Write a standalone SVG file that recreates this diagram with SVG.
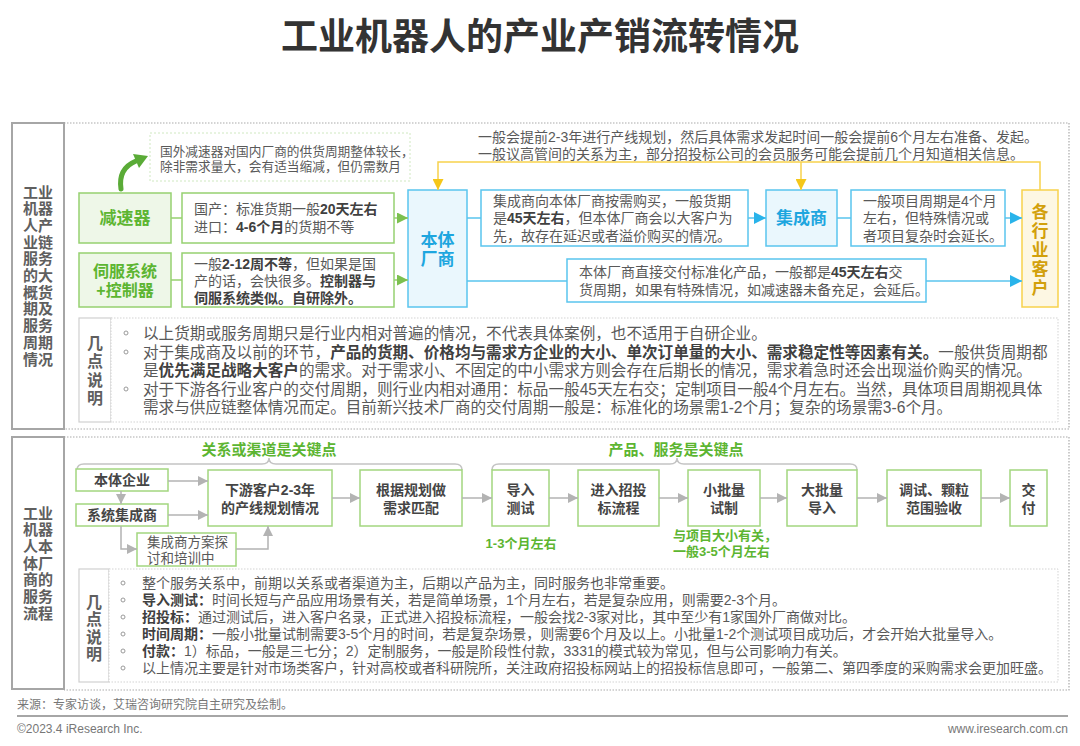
<svg xmlns="http://www.w3.org/2000/svg" width="1080" height="746" viewBox="0 0 1080 746">
<defs>
<style>
text{font-family:"Liberation Sans","Noto Sans CJK SC",sans-serif;fill:#595959}
.t{font-size:14px}
.b{font-weight:bold;fill:#404040}
.title{font-size:37px;font-weight:bold;fill:#333;text-anchor:middle}
.side{font-size:15px;font-weight:bold;fill:#5f5f5f;text-anchor:middle}
.gbox{fill:#fff;stroke:#96d170;stroke-width:1.5}
.gnode{fill:#eef7e8;stroke:#96d170;stroke-width:1.5}
.gtxt{font-weight:bold;fill:#5cb531;text-anchor:middle}
.bbox{fill:#fff;stroke:#5ac5ee;stroke-width:1.5}
.bnode{fill:#eaf7fd;stroke:#5ac5ee;stroke-width:1.5}
.btxt{font-weight:bold;fill:#1ea6df;text-anchor:middle;font-size:17px}
.ynode{fill:#fdf7e3;stroke:#f7d24c;stroke-width:1.5}
.ytxt{font-weight:bold;fill:#d2a00c;text-anchor:middle;font-size:17px}
.frame{fill:none;stroke:#aaa;stroke-width:1.2;stroke-dasharray:1.5 1.5}
.lab{fill:#fff;stroke:#a6a6a6;stroke-width:2}
.nlab{fill:#fff;stroke:#d0d0d0;stroke-width:1.2}
.nbox{fill:#fff;stroke:#d3d3d3;stroke-width:1;stroke-dasharray:1.5 1.5}
.nt{font-size:15.6px}
.nt2{font-size:14px}
.ntl{font-size:16px;font-weight:bold;fill:#5f5f5f;text-anchor:middle}
.fbox{fill:#fff;stroke:#a3d67f;stroke-width:1.5}
.ftxt{font-size:14px;font-weight:bold;fill:#454545;text-anchor:middle}
.glab{font-size:15px;font-weight:bold;fill:#5cb531;text-anchor:middle}
.glab2{font-size:13px;font-weight:bold;fill:#5cb531}
.gl{fill:none;stroke:#96d170;stroke-width:1.5}
.bl{fill:none;stroke:#5ac5ee;stroke-width:1.5}
.yl{fill:none;stroke:#f7d24c;stroke-width:1.5}
.gy{fill:none;stroke:#b3b3b3;stroke-width:1.5}
.brace{fill:none;stroke:#c4c4c4;stroke-width:1.5}
.dot{fill:none;stroke:#9a9a9a;stroke-width:1}
.foot{font-size:12px;fill:#777}
</style>
<marker id="mg" viewBox="0 0 10 10" refX="10" refY="5" markerWidth="11" markerHeight="11" markerUnits="userSpaceOnUse" orient="auto"><path d="M0,0 L10,5 L0,10 z" fill="#7cc04f"/></marker>
<marker id="mb" viewBox="0 0 10 10" refX="10" refY="5" markerWidth="12" markerHeight="12" markerUnits="userSpaceOnUse" orient="auto"><path d="M0,0 L10,5 L0,10 z" fill="#29b3ea"/></marker>
<marker id="my" viewBox="0 0 10 10" refX="10" refY="5" markerWidth="11" markerHeight="11" markerUnits="userSpaceOnUse" orient="auto"><path d="M0,0 L10,5 L0,10 z" fill="#f5c71a"/></marker>
<marker id="mgy" viewBox="0 0 10 10" refX="10" refY="5" markerWidth="10" markerHeight="10" markerUnits="userSpaceOnUse" orient="auto"><path d="M0,0 L10,5 L0,10 z" fill="#b3b3b3"/></marker>
</defs>
<rect width="1080" height="746" fill="#fff"/>
<text class="title" x="540" y="50">工业机器人的产业产销流转情况</text>

<g id="section1">
<path class="frame" d="M64,123 H1069 V429 H64"/>
<rect class="lab" x="12" y="123" width="52" height="306"/>
<text class="side" x="38"><tspan x="38" y="197.5">工业</tspan><tspan x="38" y="214.2">机器</tspan><tspan x="38" y="230.9">人产</tspan><tspan x="38" y="247.6">业链</tspan><tspan x="38" y="264.3">服务</tspan><tspan x="38" y="281">的大</tspan><tspan x="38" y="297.7">概货</tspan><tspan x="38" y="314.4">期及</tspan><tspan x="38" y="331.1">服务</tspan><tspan x="38" y="347.8">周期</tspan><tspan x="38" y="364.5">情况</tspan></text>
</g>

<g id="note-reducer">
<rect x="150" y="133" width="260" height="48" fill="#fff" stroke="#cfe8c0" stroke-width="1" stroke-dasharray="2 2"/>
<text style="font-size:12.7px"><tspan x="160" y="156">国外减速器对国内厂商的供货周期整体较长，</tspan><tspan x="160" y="171">除非需求量大，会有适当缩减，但仍需数月</tspan></text>
</g>

<g id="node-reducer">
<rect class="gnode" x="79" y="193" width="92" height="50"/>
<text class="gtxt" x="125" y="224" style="font-size:17px">减速器</text>
</g>
<g id="desc-reducer">
<rect class="gbox" x="182" y="193" width="212" height="50"/>
<text class="t"><tspan x="194" y="214">国产：标准货期一般<tspan class="b">20天左右</tspan></tspan><tspan x="194" y="232">进口：<tspan class="b">4-6个月</tspan>的货期不等</tspan></text>
</g>
<g id="node-servo">
<rect class="gnode" x="79" y="253" width="92" height="54"/>
<text class="gtxt" style="font-size:16px"><tspan x="125" y="277">伺服系统</tspan><tspan x="125" y="296">+控制器</tspan></text>
</g>
<g id="desc-servo">
<rect class="gbox" x="182" y="253" width="212" height="54"/>
<text class="t"><tspan x="194" y="269">一般<tspan class="b">2-12周不等</tspan>，但如果是国</tspan><tspan x="194" y="286">产的话，会快很多。<tspan class="b">控制器与</tspan></tspan><tspan x="194" y="303"><tspan class="b">伺服系统类似。自研除外。</tspan></tspan></text>
</g>

<g id="node-body">
<rect class="bnode" x="408" y="190" width="59" height="117"/>
<text class="btxt"><tspan x="437.5" y="246">本体</tspan><tspan x="437.5" y="265">厂商</tspan></text>
</g>

<g id="top-text">
<text class="t"><tspan x="478" y="142">一般会提前2-3年进行产线规划，然后具体需求发起时间一般会提前6个月左右准备、发起。</tspan><tspan x="478" y="159">一般议高管间的关系为主，部分招投标公司的会员服务可能会提前几个月知道相关信息。</tspan></text>
</g>

<g id="desc-buy">
<rect class="bbox" x="481" y="190" width="267" height="56"/>
<text class="t"><tspan x="493" y="206">集成商向本体厂商按需购买，一般货期</tspan><tspan x="493" y="223">是<tspan class="b">45天左右</tspan>，但本体厂商会以大客户为</tspan><tspan x="493" y="241">先，故存在延迟或者溢价购买的情况。</tspan></text>
</g>
<g id="node-integrator">
<rect class="bnode" x="766" y="190" width="71" height="56"/>
<text class="btxt" x="801.5" y="224">集成商</text>
</g>
<g id="desc-project">
<rect class="bbox" x="851" y="190" width="154" height="56"/>
<text class="t"><tspan x="863" y="206">一般项目周期是4个月</tspan><tspan x="863" y="223">左右，但特殊情况或</tspan><tspan x="863" y="241">者项目复杂时会延长。</tspan></text>
</g>
<g id="node-customers">
<rect class="ynode" x="1022" y="190" width="36" height="117"/>
<text class="ytxt"><tspan x="1040" y="218">各</tspan><tspan x="1040" y="237">行</tspan><tspan x="1040" y="256">业</tspan><tspan x="1040" y="275">客</tspan><tspan x="1040" y="294">户</tspan></text>
</g>
<g id="desc-direct">
<rect class="bbox" x="567" y="259" width="359" height="43"/>
<text class="t"><tspan x="579" y="277">本体厂商直接交付标准化产品，一般都是<tspan class="b">45天左右</tspan>交</tspan><tspan x="579" y="295">货周期，如果有特殊情况，如减速器未备充足，会延后。</tspan></text>
</g>

<g id="notes1">
<rect class="nlab" x="79" y="318" width="32" height="104"/>
<text class="ntl"><tspan x="95" y="348.5">几</tspan><tspan x="95" y="367">点</tspan><tspan x="95" y="385.5">说</tspan><tspan x="95" y="404">明</tspan></text>
<rect class="nbox" x="111" y="318" width="947" height="104"/>
<circle class="dot" cx="126" cy="333" r="2"/>
<circle class="dot" cx="126" cy="352" r="2"/>
<circle class="dot" cx="126" cy="389" r="2"/>
<text class="nt"><tspan x="143" y="338.5">以上货期或服务周期只是行业内相对普遍的情况，不代表具体案例，也不适用于自研企业。</tspan><tspan x="143" y="357.5">对于集成商及以前的环节，<tspan class="b">产品的货期、价格均与需求方企业的大小、单次订单量的大小、需求稳定性等因素有关。</tspan>一般供货周期都</tspan><tspan x="143" y="376">是<tspan class="b">优先满足战略大客户</tspan>的需求。对于需求小、不固定的中小需求方则会存在后期长的情况，需求着急时还会出现溢价购买的情况。</tspan><tspan x="143" y="394.5">对于下游各行业客户的交付周期，则行业内相对通用：标品一般45天左右交；定制项目一般4个月左右。当然，具体项目周期视具体</tspan><tspan x="143" y="413">需求与供应链整体情况而定。目前新兴技术厂商的交付周期一般是：标准化的场景需1-2个月；复杂的场景需3-6个月。</tspan></text>
</g>

<g id="section2">
<path class="frame" d="M64,437 H1069 V690 H64"/>
<rect class="lab" x="12" y="437" width="52" height="252"/>
<text class="side"><tspan x="38" y="518.5">工业</tspan><tspan x="38" y="535.2">机器</tspan><tspan x="38" y="551.9">人本</tspan><tspan x="38" y="568.6">体厂</tspan><tspan x="38" y="585.3">商的</tspan><tspan x="38" y="602">服务</tspan><tspan x="38" y="618.7">流程</tspan></text>
<text class="glab" x="269" y="455">关系或渠道是关键点</text>
<text class="glab" x="676" y="455">产品、服务是关键点</text>
<path class="brace" d="M77,470 Q77,464 84,464 L262,464 Q269,464 269,458 Q269,464 276,464 L455,464 Q462,464 462,470"/>
<path class="brace" d="M492,470 Q492,464 499,464 L670,464 Q677,464 677,458 Q677,464 684,464 L850,464 Q857,464 857,470"/>
</g>

<g id="node-bodyent"><rect class="fbox" x="76" y="469" width="92" height="22"/><text class="ftxt" x="122" y="485">本体企业</text></g>
<g id="node-sysint"><rect class="fbox" x="76" y="504" width="92" height="22"/><text class="ftxt" x="122" y="520">系统集成商</text></g>
<g id="node-training"><rect class="fbox" x="137" y="533" width="99" height="33"/><text class="t" style="font-size:13.5px"><tspan x="147" y="547">集成商方案探</tspan><tspan x="147" y="563">讨和培训中</tspan></text></g>
<g id="node-plan"><rect class="fbox" x="208" y="470" width="124" height="56"/><text class="ftxt"><tspan x="270" y="495">下游客户2-3年</tspan><tspan x="270" y="513">的产线规划情况</tspan></text></g>
<g id="node-match"><rect class="fbox" x="360" y="470" width="102" height="56"/><text class="ftxt"><tspan x="411" y="495">根据规划做</tspan><tspan x="411" y="513">需求匹配</tspan></text></g>
<g id="node-test"><rect class="fbox" x="492" y="470" width="57" height="56"/><text class="ftxt"><tspan x="520.5" y="495">导入</tspan><tspan x="520.5" y="513">测试</tspan></text></g>
<g id="node-bid"><rect class="fbox" x="578" y="470" width="81" height="56"/><text class="ftxt"><tspan x="618.5" y="495">进入招投</tspan><tspan x="618.5" y="513">标流程</tspan></text></g>
<g id="node-small"><rect class="fbox" x="688" y="470" width="72" height="56"/><text class="ftxt"><tspan x="724" y="495">小批量</tspan><tspan x="724" y="513">试制</tspan></text></g>
<g id="node-large"><rect class="fbox" x="787" y="470" width="70" height="56"/><text class="ftxt"><tspan x="822" y="495">大批量</tspan><tspan x="822" y="513">导入</tspan></text></g>
<g id="node-accept"><rect class="fbox" x="887" y="470" width="94" height="56"/><text class="ftxt"><tspan x="934" y="495">调试、颗粒</tspan><tspan x="934" y="513">范围验收</tspan></text></g>
<g id="node-deliver"><rect class="fbox" x="1010" y="470" width="37" height="56"/><text class="ftxt"><tspan x="1028.5" y="495">交</tspan><tspan x="1028.5" y="513">付</tspan></text></g>

<g id="labels-time">
<text class="glab2" x="521" y="548" text-anchor="middle">1-3个月左右</text>
<text class="glab2"><tspan x="673" y="540">与项目大小有关，</tspan><tspan x="673" y="556">一般3-5个月左右</tspan></text>
</g>

<g id="notes2">
<rect class="nlab" x="79" y="569" width="30" height="113"/>
<text class="ntl"><tspan x="94" y="607.5">几</tspan><tspan x="94" y="625">点</tspan><tspan x="94" y="642.5">说</tspan><tspan x="94" y="660">明</tspan></text>
<rect class="nbox" x="109" y="569" width="949" height="113"/>
<circle class="dot" cx="123" cy="583" r="2"/>
<circle class="dot" cx="123" cy="600" r="2"/>
<circle class="dot" cx="123" cy="617" r="2"/>
<circle class="dot" cx="123" cy="634" r="2"/>
<circle class="dot" cx="123" cy="651" r="2"/>
<circle class="dot" cx="123" cy="668" r="2"/>
<text class="nt2"><tspan x="142" y="588">整个服务关系中，前期以关系或者渠道为主，后期以产品为主，同时服务也非常重要。</tspan><tspan x="142" y="605"><tspan class="b">导入测试：</tspan>时间长短与产品应用场景有关，若是简单场景，1个月左右，若是复杂应用，则需要2-3个月。</tspan><tspan x="142" y="622"><tspan class="b">招投标：</tspan>通过测试后，进入客户名录，正式进入招投标流程，一般会找2-3家对比，其中至少有1家国外厂商做对比。</tspan><tspan x="142" y="639"><tspan class="b">时间周期：</tspan>一般小批量试制需要3-5个月的时间，若是复杂场景，则需要6个月及以上。小批量1-2个测试项目成功后，才会开始大批量导入。</tspan><tspan x="142" y="656"><tspan class="b">付款：</tspan>1）标品，一般是三七分；2）定制服务，一般是阶段性付款，3331的模式较为常见，但与公司影响力有关。</tspan><tspan x="142" y="673">以上情况主要是针对市场类客户，针对高校或者科研院所，关注政府招投标网站上的招投标信息即可，一般第二、第四季度的采购需求会更加旺盛。</tspan></text>
</g>

<g id="connectors">
<path d="M121,189 C119,176 124,166 136,161" fill="none" stroke="#5aab37" stroke-width="5" stroke-linecap="round"/>
<polygon points="148,156 133,154 139,168" fill="#5aab37"/>
<path class="gl" d="M171,218 H182 M171,280 H182"/>
<path class="gl" d="M394,218 H408" marker-end="url(#mg)"/>
<path class="gl" d="M394,280 H408" marker-end="url(#mg)"/>
<path class="bl" d="M467,218 H481 M837,218 H851 M467,281 H567"/>
<path class="bl" d="M748,218 H766" marker-end="url(#mb)"/>
<path class="bl" d="M1005,218 H1022" marker-end="url(#mb)"/>
<path class="bl" d="M926,281 H1022" marker-end="url(#mb)"/>
<path class="yl" d="M1040,190 V162 H438 V190" marker-end="url(#my)"/>
<path class="yl" d="M801,162 V190" marker-end="url(#my)"/>
<path class="gy" d="M168,481 H208" marker-end="url(#mgy)"/>
<path class="gy" d="M168,515 H208" marker-end="url(#mgy)"/>
<path class="gy" d="M121,491 V504" marker-end="url(#mgy)"/>
<path class="gy" d="M121,526 V549 H137" marker-end="url(#mgy)"/>
<path class="gy" d="M236,549 H268 V526" marker-end="url(#mgy)"/>
<path class="gy" d="M332,498 H360" marker-end="url(#mgy)"/>
<path class="gy" d="M462,498 H492" marker-end="url(#mgy)"/>
<path class="gy" d="M549,498 H578" marker-end="url(#mgy)"/>
<path class="gy" d="M659,498 H688" marker-end="url(#mgy)"/>
<path class="gy" d="M760,498 H787" marker-end="url(#mgy)"/>
<path class="gy" d="M857,498 H887" marker-end="url(#mgy)"/>
<path class="gy" d="M981,498 H1010" marker-end="url(#mgy)"/>
</g>

<g id="footer">
<text class="foot" x="17" y="709">来源：专家访谈，艾瑞咨询研究院自主研究及绘制。</text>
<line x1="17" y1="716" x2="1068" y2="716" stroke="#a6a6a6" stroke-width="2"/>
<text class="foot" x="17" y="733">©2023.4 iResearch Inc.</text>
<text class="foot" x="1068" y="733" text-anchor="end">www.iresearch.com.cn</text>
</g>
</svg>
